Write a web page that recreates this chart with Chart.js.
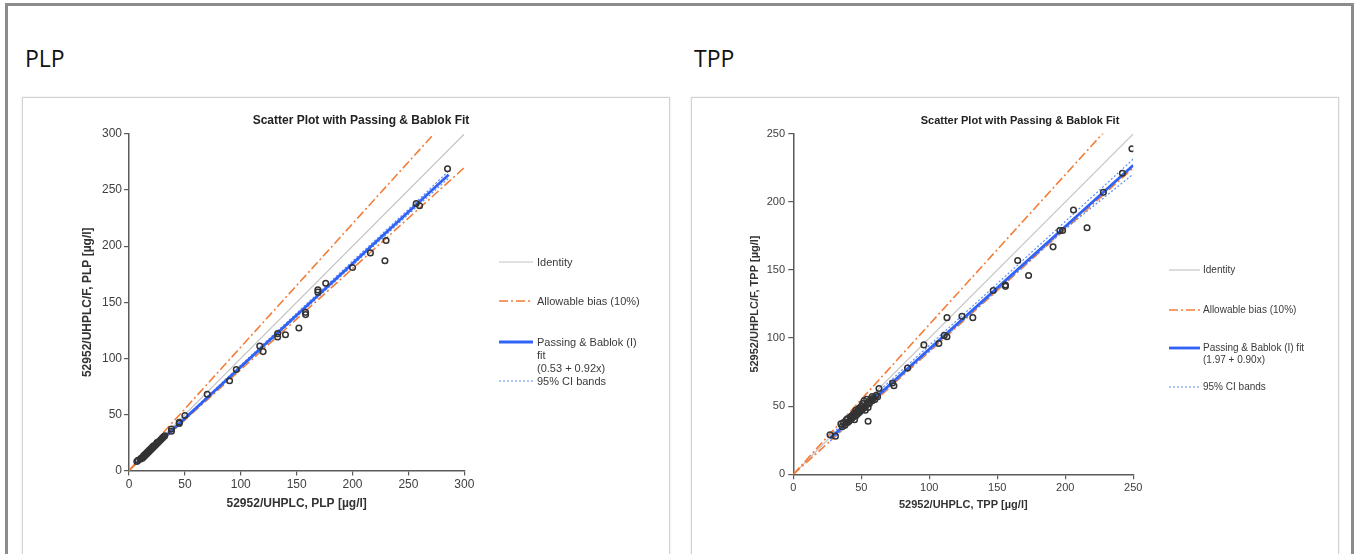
<!DOCTYPE html>
<html>
<head>
<meta charset="utf-8">
<title>PLP / TPP method comparison</title>
<script src="https://cdn.jsdelivr.net/npm/chart.js@4.4.1/dist/chart.umd.min.js"></script>
<style>
  html, body { margin: 0; padding: 0; background: #fff; }
  body { position: relative; width: 1359px; height: 554px; overflow: hidden; font-family: "Liberation Sans", Arial, sans-serif; }
  #frame { position: absolute; left: 5px; top: 3px; width: 1349px; height: 620px; border: 3px solid #8c8c8c; box-sizing: border-box; }
  .head { position: absolute; top: 42px; font-family: "Open Sans", sans-serif; font-size: 23px; color: #111; }
  .panel { position: absolute; top: 97px; width: 646px; height: 470px; border: 1px solid #d2d2d2; box-shadow: 0 0 2px rgba(0,0,0,0.12); background: #fff; }
  .panel canvas { position: absolute; left: 0; top: 0; }
  .ctitle { position: absolute; font-weight: bold; color: #222; white-space: nowrap; transform: translate(-50%, -50%); }
  .lg { position: absolute; color: #3a3a3a; white-space: nowrap; }
  .sample { position: absolute; overflow: visible; }
</style>
</head>
<body>
<div id="frame"></div>

<div class="head" style="left:25px">PLP</div>
<div class="head" style="left:694px">TPP</div>

<div class="panel" id="plpPanel" style="left:22px">
  <canvas id="plpChart" width="646" height="456"></canvas>
  <div class="ctitle" style="left:338px; top:22px; font-size:12px">Scatter Plot with Passing &amp; Bablok Fit</div>
</div>
<div class="panel" id="tppPanel" style="left:691px">
  <canvas id="tppChart" width="646" height="456"></canvas>
  <div class="ctitle" style="left:328px; top:22px; font-size:11px">Scatter Plot with Passing &amp; Bablok Fit</div>
</div>

<script>
// ---- PLP ----
const plpTicks = [0, 50, 100, 150, 200, 250, 300];
const plpX = [7, 8, 10, 11, 12, 13, 13, 14, 14, 15, 15, 16, 16, 17, 17, 18, 18, 19, 19, 20, 20, 21, 21, 22, 22, 23, 24, 25, 25, 26, 27, 28, 29, 30, 31, 32,
  38, 38, 45, 45, 50, 70, 90, 96, 117, 120, 133, 133, 140, 152, 158, 158, 169, 169, 176, 200, 216, 229, 230, 257, 260, 285];
const plpY = [8, 9, 10, 11, 11, 12, 13, 13, 14, 14, 15, 15, 16, 16, 17, 17, 18, 18, 19, 19, 20, 20, 21, 21, 22, 22, 23, 24, 25, 25, 26, 27, 28, 29, 30, 31,
  37, 35, 43, 42, 49, 68, 80, 90, 111, 106, 122, 119, 121, 127, 141, 139, 161, 159, 167, 181, 194, 187, 205, 238, 236, 269];
const plpFitCoef = [0.53, 0.92];      // intercept, slope
const plpFitRange = [7, 286];
const plpCiX = [7, 50, 100, 150, 200, 250, 286];
const plpCiUpper = [7.8, 47.3, 93.9, 140.3, 186.6, 232.8, 267.0];
const plpCiLower = [6.2, 45.3, 91.3, 137.0, 182.8, 228.4, 260.6];

// ---- TPP ----
const tppTicks = [0, 50, 100, 150, 200, 250];
const tppX = [27, 31, 35, 36, 37, 38, 39, 40, 40, 41, 42, 42, 43, 43, 44, 44, 45, 45, 46, 46, 47, 47, 48, 48, 49, 49, 50, 50, 51, 51, 52, 52, 53, 53,
  54, 54, 55, 55, 56, 57, 58, 58, 59, 60, 61, 62, 63, 55, 73, 74, 84, 96, 107, 111, 113, 113, 124, 132, 147, 156, 156, 165, 173, 191, 196, 198,
  206, 216, 228, 242, 249];
const tppY = [29, 28, 37, 35, 38, 36, 40, 38, 41, 39, 42, 40, 43, 41, 44, 42, 45, 40, 43, 47, 44, 46, 45, 48, 46, 49, 47, 50, 48, 52, 49, 54, 50, 47,
  51, 55, 49, 53, 52, 55, 54, 57, 56, 55, 58, 57, 63, 39, 67, 65, 78, 95, 96, 102, 101, 115, 116, 115, 135, 139, 138, 157, 146, 167, 179, 179,
  194, 181, 207, 221, 239];
const tppFitCoef = [1.97, 0.90];
const tppFitRange = [27, 250];
const tppCiX = [27, 50, 100, 150, 200, 250];
const tppCiUpper = [28.6, 49.4, 94.6, 140.0, 185.6, 231.5];
const tppCiLower = [24.3, 45.5, 90.5, 135.3, 180.2, 220.5];

const BIAS = 0.10;   // allowable bias (10%)

const STYLE = {
  identity: { borderColor: '#c4c4c4', borderWidth: 1.2 },
  bias: { borderColor: '#f47d3a', borderWidth: 1.6, borderDash: [9, 3, 2, 3] },
  fit: { borderColor: '#2f62f5', borderWidth: 2.8 },
  ci: { borderColor: '#5f8ef7', borderWidth: 1.2, borderDash: [2, 2] }
};

function lineSet(data, style) {
  return Object.assign({ data, showLine: true, pointRadius: 0, fill: false, tension: 0 }, style);
}

function buildDatasets(xs, ys, fitCoef, fitRange, ciX, ciUp, ciLo, axisMax) {
  const fitAt = x => fitCoef[0] + fitCoef[1] * x;
  return [
    {
      data: xs.map((x, i) => ({ x, y: ys[i] })),
      pointRadius: 2.8, pointBorderWidth: 1.5,
      borderColor: '#333', backgroundColor: 'rgba(255,255,255,0)'
    },
    lineSet(fitRange.map(x => ({ x, y: fitAt(x) })), STYLE.fit),
    lineSet(ciX.map((x, i) => ({ x, y: ciUp[i] })), STYLE.ci),
    lineSet(ciX.map((x, i) => ({ x, y: ciLo[i] })), STYLE.ci),
    lineSet([{ x: 0, y: 0 }, { x: axisMax, y: axisMax * (1 + BIAS) }], STYLE.bias),
    lineSet([{ x: 0, y: 0 }, { x: axisMax, y: axisMax * (1 - BIAS) }], STYLE.bias),
    lineSet([{ x: 0, y: 0 }, { x: axisMax, y: axisMax }], STYLE.identity)
  ];
}

// g: geometry of one panel (padding, scale sizes, fonts)
function axis(ticks, title, g, horizontal) {
  return {
    type: 'linear', min: 0, max: ticks[ticks.length - 1],
    afterBuildTicks: s => { s.ticks = ticks.map(v => ({ value: v })); },
    afterFit: s => { if (horizontal) s.height = g.xHeight; else s.width = g.yWidth; },
    ticks: { color: '#404040', padding: horizontal ? g.xTickPad : g.yTickPad, font: { family: 'Liberation Sans', size: g.tickSize } },
    grid: { drawOnChartArea: false, drawTicks: true, tickLength: 5, color: '#5a5a5a', lineWidth: 1.2 },
    border: { display: true, color: '#5a5a5a', width: 1.5 },
    title: {
      display: true, text: title, color: '#333',
      font: { family: 'Liberation Sans', size: g.titleSize, weight: 'bold' },
      padding: horizontal ? { top: 0, bottom: g.xTitlePad } : { top: g.yTitlePad, bottom: 0 }
    }
  };
}

function makeChart(id, datasets, xTicks, yTicks, xTitle, yTitle, g) {
  return new Chart(document.getElementById(id), {
    type: 'scatter',
    data: { datasets },
    options: {
      responsive: false, animation: false, events: [],
      layout: { padding: g.pad },
      plugins: { legend: { display: false }, tooltip: { enabled: false } },
      scales: {
        x: axis(xTicks, xTitle, g, true),
        y: axis(yTicks, yTitle, g, false)
      }
    }
  });
}

// legend rows are plain HTML next to the plot
function makeLegend(panelId, rows, lg) {
  const panel = document.getElementById(panelId);
  rows.forEach(r => {
    const el = document.createElement('div');
    el.className = 'lg';
    el.style.left = lg.textX + 'px';
    el.style.top = (r.y - lg.lineH / 2) + 'px';
    el.style.fontSize = lg.size + 'px';
    el.style.lineHeight = lg.lineH + 'px';
    el.innerHTML = r.lines.join('<br>');
    panel.appendChild(el);
    if (!r.style) return;
    const s = r.style;
    const svg = document.createElementNS('http://www.w3.org/2000/svg', 'svg');
    svg.setAttribute('class', 'sample');
    svg.setAttribute('width', lg.sampleW);
    svg.setAttribute('height', 6);
    svg.style.left = lg.sampleX + 'px';
    svg.style.top = (r.y - 3) + 'px';
    const ln = document.createElementNS('http://www.w3.org/2000/svg', 'line');
    ln.setAttribute('x1', 0); ln.setAttribute('x2', lg.sampleW);
    ln.setAttribute('y1', 3); ln.setAttribute('y2', 3);
    ln.setAttribute('stroke', s.borderColor);
    ln.setAttribute('stroke-width', s.borderWidth);
    if (s.borderDash) ln.setAttribute('stroke-dasharray', s.borderDash.join(' '));
    svg.appendChild(ln);
    panel.appendChild(svg);
  });
}

makeChart('plpChart',
  buildDatasets(plpX, plpY, plpFitCoef, plpFitRange, plpCiX, plpCiUpper, plpCiLower, 300),
  plpTicks, plpTicks, '52952/UHPLC, PLP [µg/l]', '52952/UHPLC/F, PLP [µg/l]',
  { pad: { left: 50, top: 36, right: 204.7, bottom: 37.5 }, yWidth: 56, xHeight: 46,
    tickSize: 12, titleSize: 12, xTickPad: 2, yTickPad: 2, xTitlePad: 5.3, yTitlePad: 7.8 });

makeChart('tppChart',
  buildDatasets(tppX, tppY, tppFitCoef, tppFitRange, tppCiX, tppCiUpper, tppCiLower, 250),
  tppTicks, tppTicks, '52952/UHPLC, TPP [µg/l]', '52952/UHPLC/F, TPP [µg/l]',
  { pad: { left: 50, top: 35.8, right: 204.7, bottom: 33.7 }, yWidth: 51.3, xHeight: 46,
    tickSize: 11, titleSize: 11, xTickPad: 2.4, yTickPad: 3.3, xTitlePad: 8.7, yTitlePad: 6.4 });

makeLegend('plpPanel', [
  { y: 164, lines: ['Identity'], style: STYLE.identity },
  { y: 203, lines: ['Allowable bias (10%)'], style: STYLE.bias },
  { y: 244, lines: ['Passing &amp; Bablok (I)'], style: STYLE.fit },
  { y: 257, lines: ['fit'] },
  { y: 270, lines: ['(0.53 + 0.92x)'] },
  { y: 283, lines: ['95% CI bands'], style: STYLE.ci }
], { sampleX: 476, sampleW: 34, textX: 514, size: 11, lineH: 13 });

makeLegend('tppPanel', [
  { y: 172, lines: ['Identity'], style: STYLE.identity },
  { y: 212, lines: ['Allowable bias (10%)'], style: STYLE.bias },
  { y: 250, lines: ['Passing &amp; Bablok (I) fit'], style: STYLE.fit },
  { y: 262, lines: ['(1.97 + 0.90x)'] },
  { y: 289, lines: ['95% CI bands'], style: STYLE.ci }
], { sampleX: 477, sampleW: 31, textX: 511, size: 10, lineH: 12 });
</script>
</body>
</html>
